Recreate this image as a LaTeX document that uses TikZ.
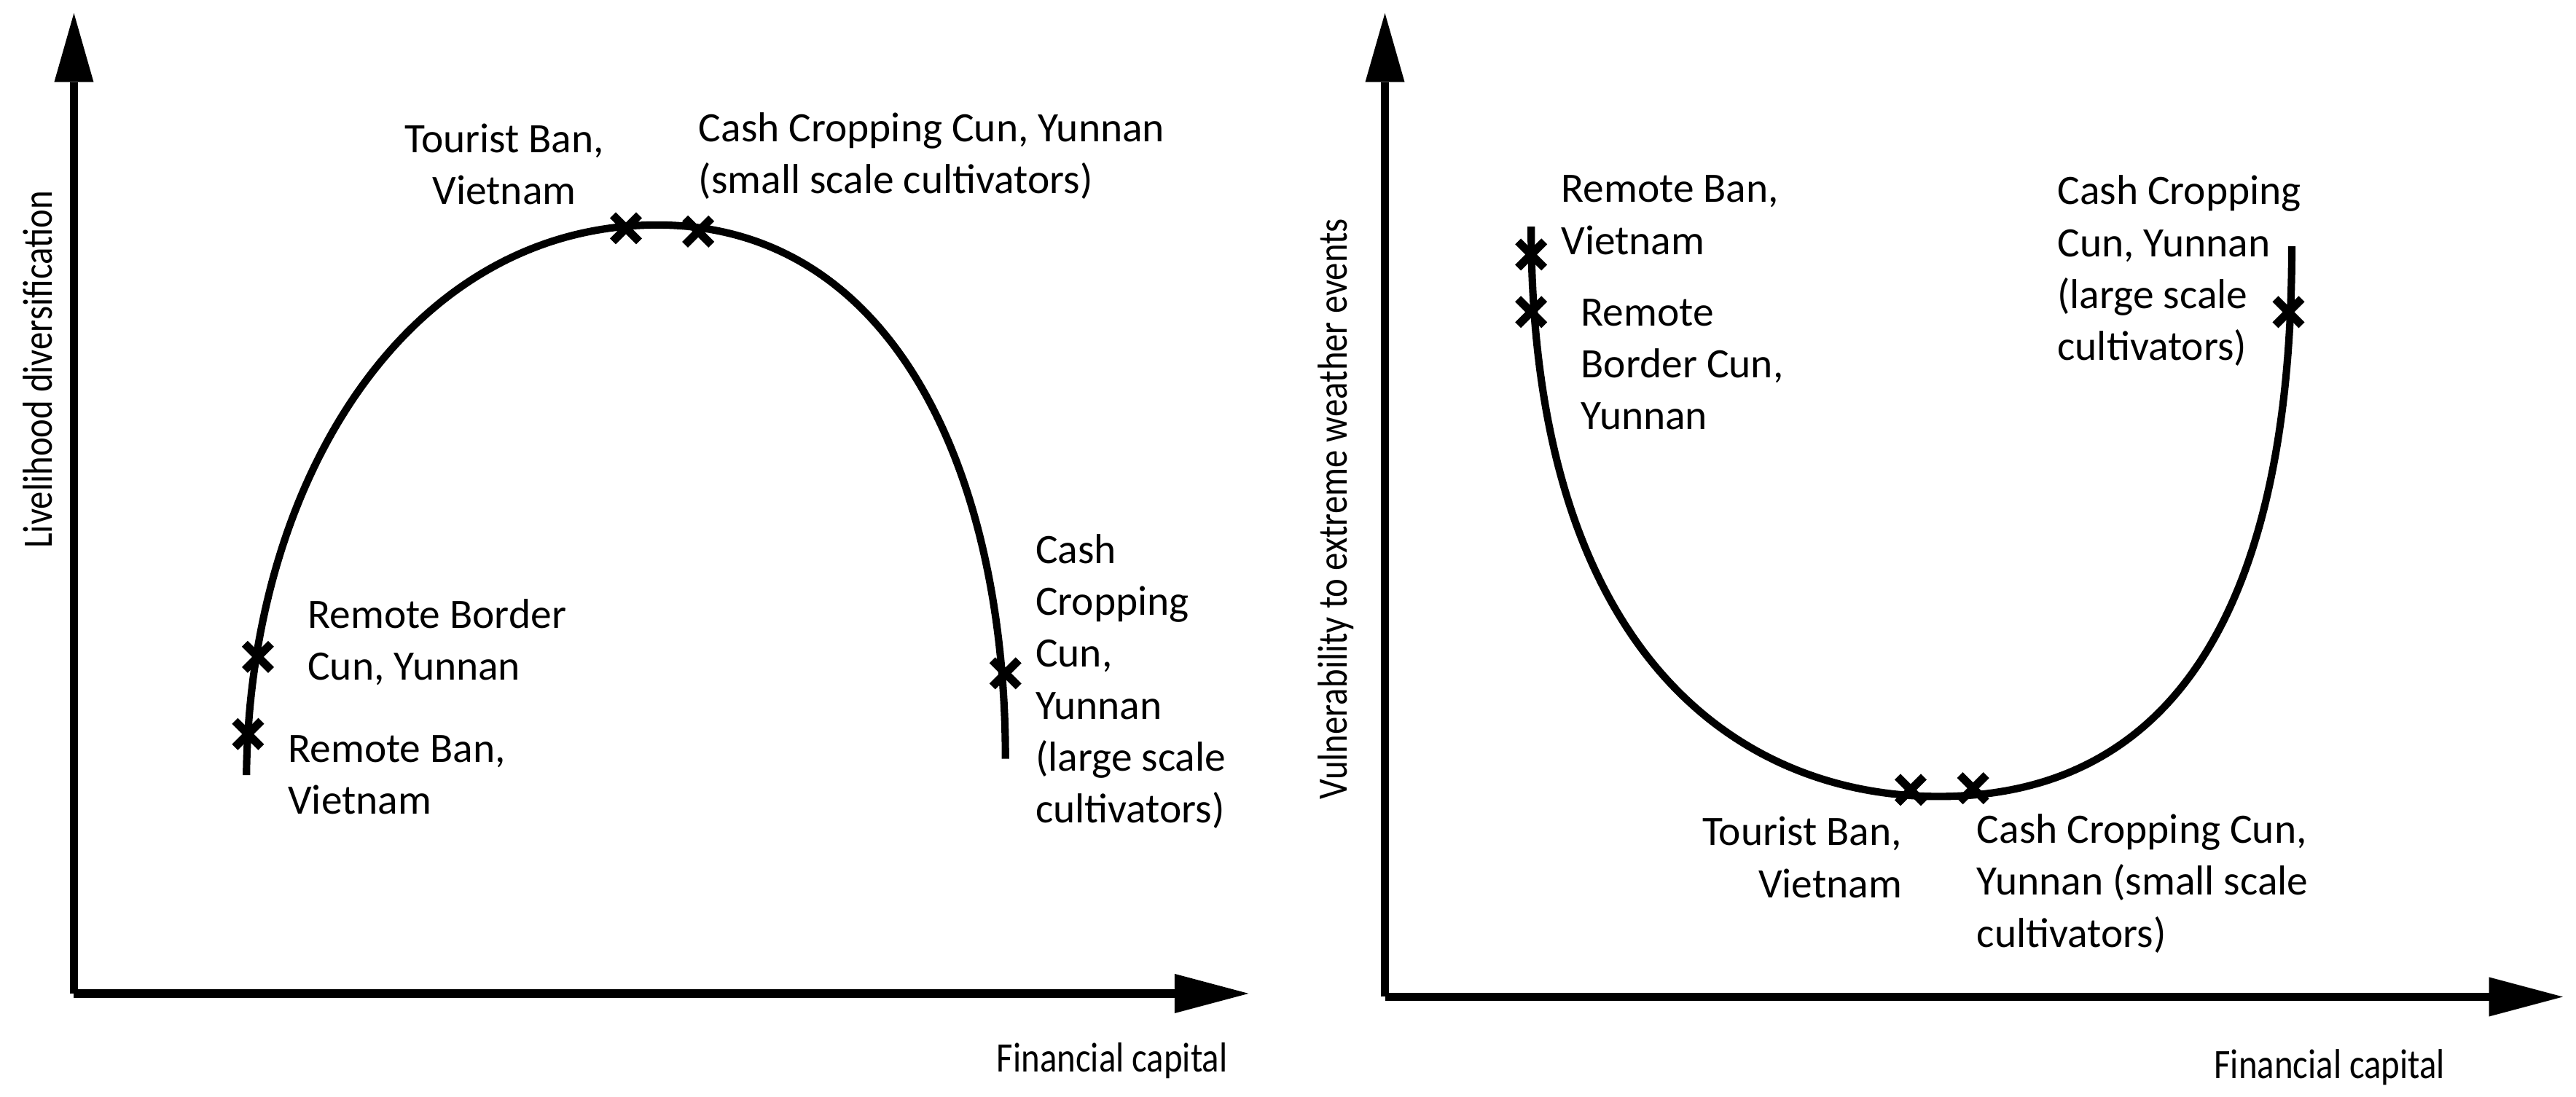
\documentclass[tikz,border=0pt]{standalone}
\usepackage{fontspec}
\setmainfont{Carlito}
\usetikzlibrary{calc}
\begin{document}
\begin{tikzpicture}[x=0.02cm,y=-0.02cm,
  ax/.style={line width=0.1cm},
  curve/.style={line width=0.09cm},
  lbl/.style={inner sep=0,font=\fontsize{14.5}{18}\selectfont},
  axl/.style={inner sep=0,font=\fontsize{14.5}{18}\selectfont},
  cross/.style={line width=0.1cm}]
\useasboundingbox (0,0) rectangle (1568,668);
% left axes
\coordinate (LO) at (45,605);
\coordinate (LY) at (45,50);
\coordinate (LX) at (715,605);
\draw[ax] (LO) -- (LY);
\draw[ax] (LO) -- (LX);
\fill (33,50) -- (45,8) -- (57,50) -- cycle;
\fill (715,593) -- (760,605) -- (715,617) -- cycle;
% right axes
\coordinate (RO) at (843,607);
\coordinate (RY) at (843,50);
\coordinate (RX) at (1515,607);
\draw[ax] (RO) -- (RY);
\draw[ax] (RO) -- (RX);
\fill (831,50) -- (843,8) -- (855,50) -- cycle;
\fill (1515,595) -- (1560,607) -- (1515,619) -- cycle;
% curves
\draw[curve] (150,472) .. controls (152,290) and (250,137) .. (400,137) .. controls (545,137) and (612,290) .. (612,462);
\draw[curve] (932,138) .. controls (932,400) and (1060,485) .. (1180,485) .. controls (1335,485) and (1395,350) .. (1395,150);
% crosses
\coordinate (c1) at (151,447); \coordinate (c2) at (157,400);
\coordinate (c3) at (381,139); \coordinate (c4) at (425,141);
\coordinate (c5) at (612,410);
\coordinate (d1) at (932,155); \coordinate (d2) at (932,190);
\coordinate (d3) at (1163,481); \coordinate (d4) at (1201,480);
\coordinate (d5) at (1393,190);
\foreach \p in {c1,c2,c3,c4,c5,d1,d2,d3,d4,d5}{\draw[cross] ($(\p)+(-8,-8)$) -- ($(\p)+(8,8)$) ($(\p)+(-8,8)$) -- ($(\p)+(8,-8)$);}
% labels left
\node[lbl,align=center] (t1) at (307,100) {Tourist Ban,\\Vietnam};
\node[lbl,align=left,anchor=west] (t2) at (425,95) {Cash Cropping Cun, Yunnan\\(small scale cultivators)};
\node[lbl,align=left,anchor=west] (t3) at (187,391) {Remote Border\\Cun, Yunnan};
\node[lbl,align=left,anchor=west] (t4) at (175,472) {Remote Ban,\\Vietnam};
\node[lbl,align=left,anchor=west] (t5) at (630,415) {Cash\\Cropping\\Cun,\\Yunnan\\(large scale\\cultivators)};
% labels right
\node[lbl,align=left,anchor=west] (u1) at (950,131) {Remote Ban,\\Vietnam};
\node[lbl,align=left,anchor=west] (u2) at (962,222) {Remote\\Border Cun,\\Yunnan};
\node[lbl,align=left,anchor=west] (u3) at (1252,165) {Cash Cropping\\Cun, Yunnan\\(large scale\\cultivators)};
\node[lbl,align=right,anchor=east] (u4) at (1158,522) {Tourist Ban,\\Vietnam};
\node[lbl,align=left,anchor=west] (u5) at (1203,538) {Cash Cropping Cun,\\Yunnan (small scale\\cultivators)};
% axis labels
\node[axl,rotate=90] (a1) at (23,225) {\scalebox{0.85}[1]{Livelihood diversification}};
\node[axl,rotate=90] (a2) at (813,310) {\scalebox{0.85}[1]{Vulnerability to extreme weather events}};
\node[axl] (a3) at (677,646) {\scalebox{0.85}[1]{Financial capital}};
\node[axl] (a4) at (1418,650) {\scalebox{0.85}[1]{Financial capital}};
\end{tikzpicture}
\end{document}
